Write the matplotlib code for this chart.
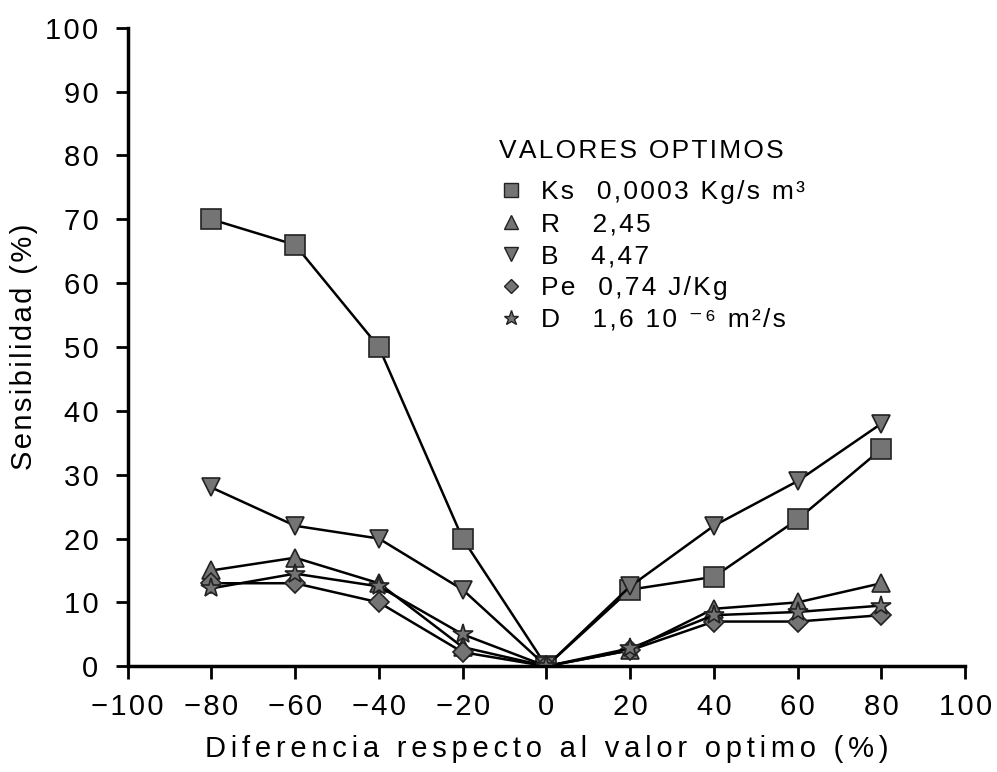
import matplotlib
matplotlib.use('Agg')
import matplotlib.pyplot as plt
from matplotlib.lines import Line2D
from matplotlib.ticker import FuncFormatter

# diferencia respecto al valor optimo (%)
x = [-80, -60, -40, -20, 0, 20, 40, 60, 80]

ks = [70, 66, 50, 20, 0, 12, 14, 23, 34]
r = [15, 17, 13, 3, 0, 2.5, 9, 10, 13]
b = [28, 22, 20, 12, 0, 12.5, 22, 29, 38]
pe = [13, 13, 10, 2.2, 0, 2.5, 7, 7, 8]
d = [12.2, 14.5, 12.5, 5, 0, 2.8, 8, 8.5, 9.5]

series = [ks, r, b, pe, d]
markers = ['s', '^', 'v', 'D', '*']
sizes = [14, 13, 13, 10, 15]
names = ['Ks', 'R', 'B', 'Pe', 'D']
values = ['0,0003 Kg/s m\u00b3', '2,45', '4,47', '0,74 J/Kg', '1,6 10 \u207b\u2076 m\u00b2/s']

plt.rcParams['font.family'] = ['Liberation Sans', 'DejaVu Sans']

GAP = '\u200a'


def spaced(s, n=1):
    # wider letter spacing like the original lettering
    return (GAP * n).join(s)


fig = plt.figure(figsize=(9.97, 7.72), dpi=100)
ax = fig.add_axes([0.128, 0.137, 0.840, 0.827])

for ys, m, ms in zip(series, markers, sizes):
    ax.plot(x, ys, color='black', lw=1.8, marker=m, markersize=ms,
            markerfacecolor='#747474', markeredgecolor='#222222', markeredgewidth=1.2)

ax.set_xlim(-100, 100)
ax.set_ylim(0, 100)
ax.set_xticks(range(-100, 101, 20))
ax.set_yticks(range(0, 101, 10))
ax.xaxis.set_major_formatter(FuncFormatter(
    lambda v, p: spaced('%d' % v) if v >= 0 else spaced('\u2212%d' % -v)))
ax.yaxis.set_major_formatter(FuncFormatter(lambda v, p: spaced('%d' % v)))

for s in ['top', 'right']:
    ax.spines[s].set_visible(False)
for s in ['left', 'bottom']:
    ax.spines[s].set_linewidth(2.5)
ax.tick_params(direction='out', length=9, width=2, labelsize=21)
ax.tick_params(axis='y', pad=12)
ax.tick_params(axis='x', pad=10)

ax.set_xlabel(spaced('Diferencia respecto al valor optimo (%)', 2), fontsize=21, labelpad=10)
ax.set_ylabel(spaced('Sensibilidad (%)'), fontsize=21, labelpad=5)

ax.text(0.443, 0.807, spaced('VALORES OPTIMOS'), transform=ax.transAxes,
        fontsize=19, ha='left', va='center')

handles = [Line2D([], [], linestyle='none', marker=m, markersize=ms * 0.75,
                  markerfacecolor='#747474', markeredgecolor='#222222')
           for m, ms in zip(markers, sizes)]
labels = [spaced(n.ljust(3)) + '\u2002' + spaced(v) for n, v in zip(names, values)]
leg = ax.legend(handles, labels, loc='upper left',
                bbox_to_anchor=(0.43, 0.782), frameon=False, fontsize=19,
                handlelength=0.8, handletextpad=0.7,
                labelspacing=0.3, borderpad=0)

fig.savefig('out.png', dpi=100)
